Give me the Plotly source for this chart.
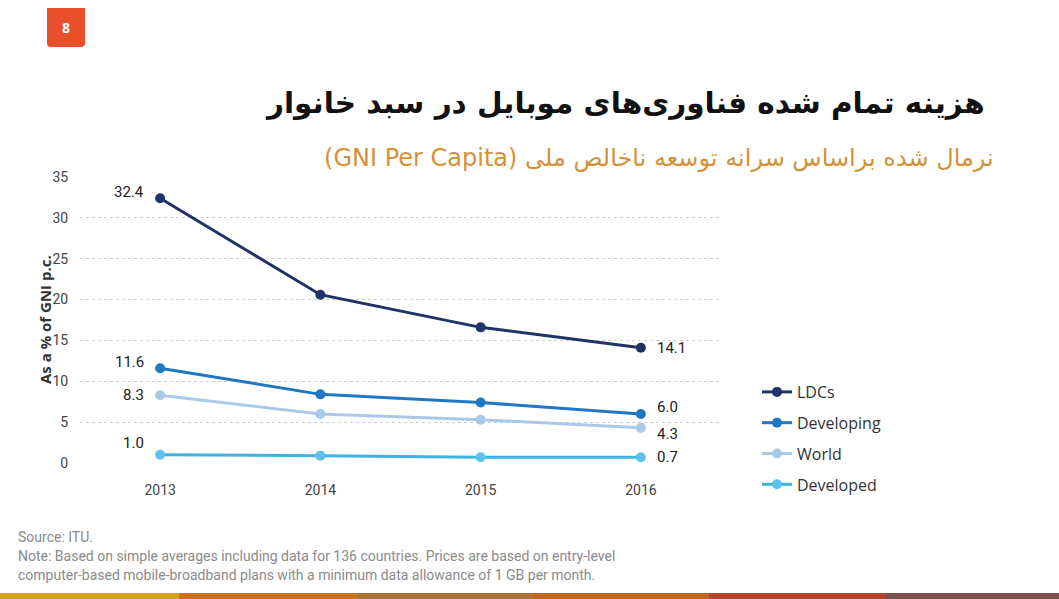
import plotly.graph_objects as go

years = [2013, 2014, 2015, 2016]
series_names = ["LDCs", "Developing", "World", "Developed"]
ldcs = [32.4, 20.6, 16.6, 14.1]
developing = [11.6, 8.4, 7.4, 6.0]
world = [8.3, 6.0, 5.3, 4.3]
developed = [1.0, 0.9, 0.7, 0.7]
y_ticks = [0, 5, 10, 15, 20, 25, 30, 35]

title_text = "هزینه تمام شده فناوری‌های موبایل در سبد خانوار"
subtitle_text = "نرمال شده براساس سرانه توسعه ناخالص ملی (GNI Per Capita)"
y_title = "As a % of GNI p.c."
source_text = "Source: ITU."
note_lines = ["Note: Based on simple averages including data for 136 countries. Prices are based on entry-level",
              "computer-based mobile-broadband plans with a minimum data allowance of 1 GB per month."]

line_colors = ["#1F3366", "#1F78C1", "#A9C9E9", "#3DB2E3"]
marker_colors = ["#1F3366", "#1F78C1", "#A9C9E9", "#5BC3EE"]
# label vertical shifts (px) for first / last point labels
left_shift = [6, 6, 0, 12]
right_shift = [0, 7, -6, 0]

W, H = 1059, 599
L, R, T, B = 80, 721, 177, 463

all_series = [ldcs, developing, world, developed]

fig = go.Figure()
for name, vals, lc, mc in zip(series_names, all_series, line_colors, marker_colors):
    fig.add_trace(go.Scatter(
        x=years, y=vals, name=name, mode="lines+markers",
        line=dict(color=lc, width=3),
        marker=dict(color=mc, size=10),
        legendgroup=name, cliponaxis=False,
    ))

lab_font = dict(family="Liberation Sans Narrow, Roboto", size=15, color="#222")
annotations = []
for vals, ls, rs in zip(all_series, left_shift, right_shift):
    annotations.append(dict(x=years[0], y=vals[0], xref="x", yref="y", text=f"{vals[0]:.1f}",
                            showarrow=False, xanchor="right", yanchor="middle", xshift=-14, yshift=ls,
                            font=lab_font))
    annotations.append(dict(x=years[-1], y=vals[-1], xref="x", yref="y", text=f"{vals[-1]:.1f}",
                            showarrow=False, xanchor="left", yanchor="middle", xshift=14, yshift=rs,
                            font=lab_font))

def px(x):
    return (x - L) / (R - L)

def py(y):
    return (B - y) / (B - T)

foot_font = dict(family="Liberation Sans Narrow, Roboto", size=14, color="#8a8a8a")
annotations += [
    dict(x=px(45), y=py(320), xref="paper", yref="paper", text=f"<b>{y_title}</b>", textangle=-90,
         xanchor="center", yanchor="middle",
         showarrow=False, font=dict(family="Open Sans", size=15, color="#333")),
    dict(x=px(987), y=py(103), xref="paper", yref="paper", text=f"<b>{title_text}</b>",
         showarrow=False, xanchor="right", yanchor="middle",
         font=dict(family="DejaVu Sans", size=29.5, color="#111")),
    dict(x=px(996), y=py(158), xref="paper", yref="paper", text="\u202B" + subtitle_text + "\u202C",
         showarrow=False, xanchor="right", yanchor="middle",
         font=dict(family="DejaVu Sans", size=24, color="#D4913A")),
    dict(x=px(66), y=py(28), xref="paper", yref="paper", text="<b>8</b>",
         xanchor="center", yanchor="middle",
         showarrow=False, font=dict(family="Open Sans", size=14, color="white")),
    dict(x=px(16), y=py(537), xref="paper", yref="paper", text=source_text, xanchor="left",
         yanchor="middle", showarrow=False, font=foot_font),
    dict(x=px(16), y=py(556), xref="paper", yref="paper", text=note_lines[0], xanchor="left",
         yanchor="middle", showarrow=False, font=foot_font),
    dict(x=px(16), y=py(575), xref="paper", yref="paper", text=note_lines[1], xanchor="left",
         yanchor="middle", showarrow=False, font=foot_font),
]

shapes = [dict(type="path", xref="paper", yref="paper",
               path=f"M {px(47)} {py(8)} L {px(85)} {py(8)} L {px(85)} {py(43)} Q {px(85)} {py(47)} {px(81)} {py(47)} L {px(51)} {py(47)} Q {px(47)} {py(47)} {px(47)} {py(43)} Z",
               fillcolor="#E8502A", line=dict(width=0), layer="above")]
strip_colors = ["#D7A21B", "#C9711E", "#A9733A", "#C0661F", "#B5452A", "#7B4F4B"]
edges = [0, 179, 358, 534, 709, 885, 1059]
for i, c in enumerate(strip_colors):
    shapes.append(dict(type="rect", xref="paper", yref="paper",
                       x0=px(edges[i]), x1=px(edges[i + 1]), y0=py(593), y1=py(599),
                       fillcolor=c, line=dict(width=0)))

fig.update_layout(
    width=W, height=H,
    margin=dict(l=L, r=W - R, t=T, b=H - B),
    paper_bgcolor="white", plot_bgcolor="white",
    showlegend=True,
    legend=dict(x=px(757), y=py(375), xanchor="left", yanchor="top",
                font=dict(family="Open Sans", size=16, color="#333"),
                tracegroupgap=7, bgcolor="rgba(0,0,0,0)"),
    xaxis=dict(range=[2012.5, 2016.5], tickvals=years, ticktext=[str(y) for y in years],
               showgrid=False, zeroline=False, showline=False,
               ticks="outside", ticklen=14, tickcolor="rgba(0,0,0,0)",
               tickfont=dict(family="Liberation Sans Narrow, Roboto", size=14, color="#444")),
    yaxis=dict(range=[0, 35], tickvals=y_ticks, showgrid=True, gridcolor="#d0d0d0",
               griddash="dot", gridwidth=1, zeroline=False, showline=False,
               ticks="outside", ticklen=8, tickcolor="rgba(0,0,0,0)",
               tickfont=dict(family="Liberation Sans Narrow, Roboto", size=14, color="#444")),
    annotations=annotations, shapes=shapes,
)

fig.write_html("out.html")
